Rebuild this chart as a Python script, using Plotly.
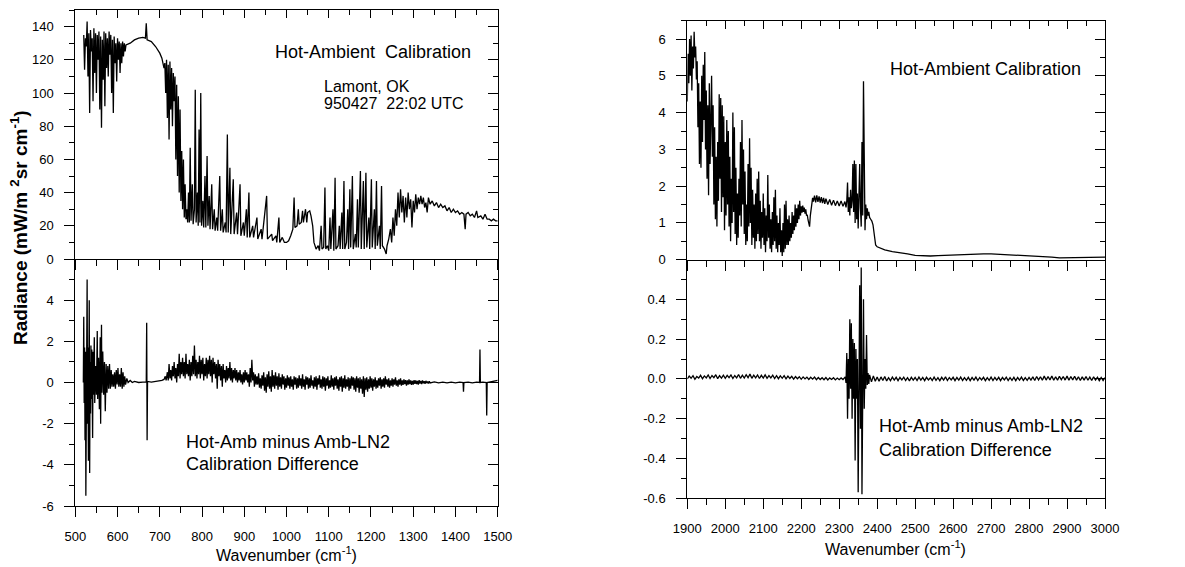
import plotly.graph_objects as go

# ---------------- data ----------------
# Top-left: Hot-Ambient calibration radiance, 500-1500 cm-1
TL_WN = [
    520, 522, 524, 526, 528, 530, 532, 534, 536, 538,
    540, 542, 544, 546, 548, 550, 552, 554, 556, 558,
    560, 562, 564, 566, 568, 570, 572, 574, 576, 578,
    580, 582, 584, 586, 588, 590, 592, 594, 596, 598,
    600, 602, 604, 606, 608, 610, 612, 614, 616, 618,
    620, 630, 640, 650, 660, 666, 668, 670, 680, 690,
    700, 705, 710, 712, 714, 716, 718, 720, 722, 724,
    726, 728, 730, 732, 734, 736, 738, 740, 742, 744,
    746, 748, 750, 752, 754, 756, 758, 760, 762, 764,
    766, 768, 770, 772, 774, 777, 779, 782, 784, 786,
    789, 791, 793, 795, 797, 799, 802, 804, 807, 809,
    812, 814, 817, 819, 823, 825, 829, 831, 835, 837,
    842, 844, 848, 850, 855, 857, 860, 862, 866, 868,
    874, 876, 882, 884, 890, 892, 898, 900, 905, 907,
    911, 913, 920, 922, 930, 932, 940, 942, 953, 955,
    965, 967, 975, 977, 982, 984, 990, 995, 1000, 1005,
    1010, 1015, 1018, 1020, 1025, 1028, 1030, 1035, 1038, 1040,
    1045, 1048, 1050, 1055, 1058, 1062, 1065, 1068, 1070, 1075,
    1078, 1082, 1084, 1088, 1091, 1093, 1097, 1100, 1103, 1105,
    1110, 1112, 1115, 1117, 1122, 1125, 1127, 1131, 1133, 1136,
    1138, 1142, 1145, 1147, 1150, 1152, 1156, 1158, 1163, 1165,
    1168, 1170, 1175, 1177, 1182, 1184, 1188, 1190, 1195, 1197,
    1201, 1203, 1208, 1210, 1213, 1215, 1220, 1222, 1225, 1227,
    1232, 1236, 1238, 1242, 1246, 1249, 1252, 1255, 1258, 1261,
    1264, 1267, 1270, 1273, 1276, 1279, 1282, 1285, 1288, 1291,
    1294, 1297, 1300, 1303, 1306, 1309, 1312, 1315, 1318, 1321,
    1324, 1327, 1330, 1333, 1336, 1340, 1345, 1350, 1355, 1360,
    1365, 1370, 1375, 1380, 1385, 1390, 1395, 1400, 1405, 1410,
    1415, 1420, 1423, 1425, 1430, 1435, 1440, 1445, 1450, 1453,
    1460, 1465, 1470, 1475, 1480, 1485, 1490, 1495, 1500,
]
TL_RAD = [
    135, 114, 133, 128, 143, 110, 136, 88, 138, 125,
    133, 95, 139, 112, 136, 100, 135, 120, 137, 90,
    134, 79, 132, 108, 137, 92, 136, 115, 133, 110,
    137, 123, 135, 100, 132, 88, 134, 118, 130, 107,
    133, 120, 131, 112, 130, 118, 131, 122, 130, 125,
    129, 130, 132, 133, 133.5, 133, 142, 132, 131, 128,
    124, 121, 115, 118, 100, 120, 85, 117, 72, 119,
    90, 115, 80, 112, 95, 110, 60, 105, 50, 98,
    40, 90, 35, 65, 30, 60, 25, 45, 24, 30,
    22, 40, 22, 67, 23, 45, 21, 30, 102, 22,
    40, 20, 78, 22, 100, 20, 35, 19, 50, 19,
    62, 20, 38, 18, 45, 18, 30, 17, 25, 17,
    50, 17, 30, 16, 22, 16, 75, 16, 55, 15,
    48, 15, 28, 15, 45, 14, 22, 14, 30, 13,
    40, 13, 20, 13, 25, 12, 18, 12, 38, 12,
    15, 11, 14, 10, 25, 10, 13, 10, 10, 11,
    14, 18, 37, 19, 20, 30, 21, 22, 29, 22,
    30, 22, 28, 29, 26, 20, 10, 7, 6, 8,
    5, 20, 6, 7, 43, 6, 8, 5, 25, 6,
    30, 5, 49, 6, 8, 20, 6, 28, 6, 47,
    6, 10, 30, 6, 42, 7, 50, 6, 15, 7,
    36, 7, 53, 6, 47, 6, 52, 7, 25, 6,
    48, 7, 30, 6, 47, 8, 20, 6, 44, 8,
    6, 3, 8, 12, 18, 10, 25, 14, 30, 20,
    40, 25, 42, 28, 38, 22, 37, 25, 40, 30,
    36, 19, 35, 28, 39, 30, 37, 33, 38, 33,
    37, 31, 34, 28, 37, 33, 35, 32, 34, 31,
    33, 31, 32, 29, 31, 28, 30, 28, 29, 27,
    28, 27, 18, 27, 28, 26, 27, 25, 29, 25,
    26, 24, 27, 24, 24, 23, 24, 23, 23,
]

# Bottom-left: Hot-Amb minus Amb-LN2 difference, 500-1500 cm-1
BL_WN = [
    519, 520, 521, 522, 523, 524, 525, 526, 527, 528,
    529, 530, 531, 532, 533, 534, 535, 536, 537, 538,
    539, 541, 542, 543, 545, 546, 548, 550, 552, 553,
    555, 557, 559, 560, 562, 563, 565, 567, 569, 571,
    573, 575, 577, 579, 581, 583, 585, 587, 589, 591,
    593, 595, 597, 599, 601, 603, 605, 607, 609, 611,
    613, 615, 617, 619, 622, 625, 630, 635, 640, 650,
    660, 668, 669, 670, 671, 680, 690, 700, 705, 710,
    713, 715, 718, 720, 722, 724, 726, 728, 730, 732,
    734, 736, 738, 740, 742, 744, 746, 748, 750, 752,
    754, 756, 758, 760, 762, 764, 766, 768, 770, 772,
    774, 776, 778, 780, 782, 784, 786, 788, 790, 792,
    794, 796, 798, 800, 802, 804, 806, 808, 810, 812,
    814, 816, 818, 820, 822, 824, 826, 828, 830, 832,
    834, 836, 838, 840, 842, 844, 846, 848, 850, 852,
    854, 856, 858, 860, 862, 864, 866, 868, 870, 872,
    874, 876, 878, 880, 882, 884, 886, 888, 890, 892,
    894, 896, 898, 900, 902, 904, 906, 908, 910, 912,
    914, 916, 918, 920, 922, 924, 926, 928,
    930, 932, 934, 936, 938, 940, 942, 944, 946, 948,
    950, 952, 954, 956, 958, 960, 962, 964, 966, 968,
    970, 972, 974, 976, 978, 980, 982, 984, 986, 988,
    990, 992, 994, 996, 998, 1000, 1002, 1004, 1006, 1008,
    1010, 1012, 1014, 1016, 1018, 1020, 1022, 1024, 1026, 1028,
    1030, 1032, 1034, 1036, 1038, 1040, 1042, 1044, 1046, 1048,
    1050, 1052, 1054, 1056, 1058, 1060, 1062, 1064, 1066, 1068,
    1070, 1072, 1074, 1076, 1078, 1080, 1082, 1084, 1086, 1088,
    1090, 1092, 1094, 1096, 1098, 1100, 1102, 1104, 1106, 1108,
    1110, 1112, 1114, 1116, 1118, 1120, 1122, 1124, 1126, 1128,
    1130, 1132, 1134, 1136, 1138, 1140, 1142, 1144, 1146, 1148,
    1150, 1152, 1154, 1156, 1158, 1160, 1162, 1164, 1166, 1168,
    1170, 1172, 1174, 1176, 1178, 1180, 1182, 1184, 1186, 1188,
    1190, 1192, 1194, 1196, 1198, 1200, 1202, 1204, 1206, 1208,
    1210, 1212, 1214, 1216, 1218, 1220, 1222, 1224, 1226, 1228,
    1230, 1232, 1234, 1236, 1238, 1240, 1242, 1244, 1246, 1248,
    1250, 1252, 1254, 1256, 1258, 1260, 1262, 1264, 1266, 1268,
    1270, 1272, 1274, 1276, 1278, 1280, 1282, 1284, 1286, 1288,
    1290, 1292, 1294, 1296, 1298, 1300, 1302, 1304, 1306, 1308,
    1310, 1312, 1314, 1316, 1318, 1320, 1322, 1324, 1326, 1328,
    1330, 1332, 1334, 1336, 1338, 1340,
    1350, 1360, 1370, 1380, 1390, 1400, 1410, 1418, 1419, 1420,
    1430, 1440, 1450, 1457, 1458, 1459, 1465, 1473, 1474, 1475,
    1485, 1495, 1500,
]
BL_DIFF = [
    0, 3.2, -1, 1.7, -2.8, 1.5, -5.5, 1.8, -3.2, 5.0,
    -2.0, 1.7, -3.8, 1.2, 4.0, -4.4, 1.0, -1.5, 1.8, -0.8,
    1.6, -2.7, 1.5, -0.6, 2.2, -1.0, 0.8, -0.6, 2.5, -0.8,
    1.2, -1.3, 2.2, -2.0, 2.8, -0.5, 1.5, -0.6, 1.0, -1.4,
    0.9, -0.5, 0.8, -0.3, 0.9, -0.3, 0.6, -0.2, 0.4, -0.2,
    0.5, -0.3, 0.6, -0.1, 0.7, -0.2, 0.4, -0.2, 0.7, -0.3,
    0.5, -0.2, 0.3, -0.1, 0.2, 0.0, 0.1, 0.0, 0.05, 0.0,
    0.02, 0.03, 2.9, -2.8, 0.05, 0.02, 0.05, 0.05, 0.1, 0.15,
    0.3, 0.1, 0.5, 0.1, 0.9, 0.2, 0.6, 0.1, 0.8, 0.3,
    1.0, 0.2, 0.7, 0.0, 0.9, 0.3, 1.4, 0.2, 1.0, 0.4,
    1.2, 0.3, 1.0, 0.2, 1.4, 0.4, 0.9, 0.3, 1.1, 0.1,
    1.0, 0.3, 1.3, 0.4, 1.8, 0.3, 1.1, 0.2, 1.0, 0.4,
    1.3, 0.2, 1.1, 0.4, 1.2, 0.1, 0.9, 0.3, 1.2, 0.2,
    1.1, 0.4, 1.3, 0.3, 1.1, 0.0, 1.2, 0.4, 1.0, 0.2,
    0.9, -0.3, 1.1, 0.3, 0.9, 0.1, 0.8, -0.2, 0.9, 0.2,
    0.6, 0.0, 0.8, 0.1, 0.7, 0.2, 1.0, 0.1, 0.7, 0.0,
    0.6, 0.2, 0.7, 0.1, 0.6, 0.0, 0.5, 0.1, 0.6, 0.0,
    0.4, -0.1, 0.5, 0.0, 0.6, 0.1, 0.5, 0.0, 0.4, -0.2,
    0.7, 0.0, 1.1, 0.1, 0.5, -0.2, 0.4, -0.1,
    0.3, -0.1, 0.45, -0.25, 0.2, -0.3, 0.35, -0.15, 0.5, -0.4,
    0.25, -0.5, 0.4, -0.2, 0.55, -0.3, 0.3, -0.45, 0.6, -0.2,
    0.35, -0.3, 0.5, -0.15, 0.3, -0.35, 0.45, -0.2, 0.25, -0.3,
    0.4, -0.1, 0.3, -0.35, 0.2, -0.25, 0.35, -0.15, 0.25, -0.3,
    0.3, -0.2, 0.15, -0.35, 0.3, -0.1, 0.25, -0.3, 0.2, -0.25,
    0.35, -0.15, 0.2, -0.3, 0.4, -0.2, 0.15, -0.35, 0.3, -0.1,
    0.25, -0.3, 0.2, -0.25, 0.35, -0.15, 0.1, -0.3, 0.25, -0.2,
    0.3, -0.35, 0.2, -0.1, 0.35, -0.25, 0.15, -0.3, 0.3, -0.2,
    0.25, -0.4, 0.2, -0.15, 0.3, -0.3, 0.1, -0.25, 0.35, -0.2,
    0.2, -0.35, 0.25, -0.15, 0.3, -0.3, 0.15, -0.4, 0.25, -0.2,
    0.3, -0.45, 0.2, -0.25, 0.35, -0.3, 0.15, -0.2, 0.25, -0.4,
    0.2, -0.3, 0.3, -0.15, 0.25, -0.35, 0.2, -0.45, 0.3, -0.25,
    0.2, -0.5, 0.25, -0.3, 0.15, -0.55, 0.3, -0.7, 0.2, -0.35,
    0.25, -0.45, 0.15, -0.3, 0.3, -0.25, 0.2, -0.4, 0.15, -0.2,
    0.25, -0.3, 0.1, -0.25, 0.2, -0.15, 0.25, -0.3, 0.15, -0.2,
    0.2, -0.25, 0.3, -0.1, 0.15, -0.2, 0.2, -0.25, 0.1, -0.15,
    0.2, -0.2, 0.15, -0.1, 0.25, -0.15, 0.1, -0.2, 0.15, -0.1,
    0.2, -0.15, 0.1, -0.12, 0.15, -0.08, 0.12, -0.15, 0.1, -0.1,
    0.15, -0.08, 0.1, -0.12, 0.08, -0.1, 0.12, -0.06, 0.1, -0.08,
    0.08, -0.1, 0.12, -0.05, 0.08, -0.08, 0.1, -0.04, 0.06, -0.06,
    0.08, -0.03, 0.05, -0.05, 0.06, -0.02,
    0.03, -0.02, 0.02, -0.02, 0.02, -0.02, 0.02, 0.0, -0.45, 0.0,
    0.02, -0.02, 0.02, 0.0, 1.6, 0.0, 0.02, 0.0, -1.6, 0.0,
    0.03, 0.05, 0.1,
]

# Top-right: Hot-Ambient calibration radiance, 1900-3000 cm-1
TR_WN = [
    1900, 1902, 1904, 1906, 1908, 1910, 1912, 1914, 1916, 1918,
    1920, 1922, 1924, 1926, 1928, 1930, 1932, 1934, 1936, 1938,
    1940, 1942, 1944, 1946, 1948, 1950, 1952, 1954, 1956, 1958,
    1960, 1962, 1964, 1966, 1968, 1970, 1972, 1974, 1976, 1978,
    1980, 1982, 1984, 1986, 1988, 1990, 1992, 1994, 1996, 1998,
    2000, 2002, 2004, 2006, 2008, 2010, 2012, 2014, 2016, 2018,
    2020, 2022, 2024, 2026, 2028, 2030, 2032, 2034, 2036, 2038,
    2040, 2042, 2044, 2046, 2048, 2050, 2052, 2054, 2056, 2058,
    2060, 2062, 2064, 2066, 2068, 2070, 2072, 2074, 2076, 2078,
    2080, 2082, 2084, 2086, 2088, 2090, 2092, 2094, 2096, 2098,
    2100, 2102, 2104, 2106, 2108, 2110, 2112, 2114, 2116, 2118,
    2120, 2122, 2124, 2126, 2128, 2130, 2132, 2134, 2136, 2138,
    2140, 2142, 2144, 2146, 2148, 2150, 2152, 2154, 2156, 2158,
    2160, 2162, 2164, 2166, 2168, 2170, 2172, 2174, 2176, 2178,
    2180, 2182, 2184, 2186, 2188, 2190, 2192, 2194, 2196, 2198,
    2200, 2202, 2204, 2206, 2208, 2210, 2212, 2214, 2216, 2218,
    2220, 2222, 2224, 2226, 2228, 2230, 2232, 2235, 2238, 2241,
    2244, 2247, 2250, 2253, 2256, 2259, 2262, 2265, 2270, 2275,
    2280, 2285, 2290, 2295, 2300, 2305, 2310, 2315, 2318, 2320,
    2322, 2324, 2326, 2328, 2330, 2332, 2334, 2336, 2338, 2340,
    2342, 2344, 2346, 2348, 2350, 2352, 2354, 2356, 2358, 2360,
    2362, 2364, 2366, 2368, 2370, 2372, 2374, 2376, 2378, 2380,
    2383, 2386, 2389, 2392, 2394, 2396, 2400, 2410, 2420, 2440,
    2460, 2480, 2500, 2520, 2540, 2560, 2580, 2600, 2620, 2650,
    2680, 2700, 2720, 2750, 2780, 2800, 2830, 2860, 2880, 2900,
    2920, 2950, 2980, 3000,
]
TR_RAD = [
    4.3, 5.6, 4.8, 6.0, 5.0, 6.1, 4.6, 5.8, 5.2, 6.2,
    5.5, 5.8, 4.9, 5.4, 3.6, 4.8, 2.6, 4.3, 2.5, 5.0,
    3.2, 5.3, 3.8, 5.65, 3.0, 4.6, 2.2, 4.2, 1.75, 4.8,
    2.6, 4.6, 5.0, 2.8, 4.2, 1.5, 3.6, 1.1, 2.8, 0.9,
    3.2, 1.6, 4.5, 2.2, 4.4, 1.3, 4.2, 1.7, 3.9, 0.8,
    3.2, 1.2, 3.8, 1.5, 3.5, 0.9, 2.8, 0.5, 2.2, 1.0,
    4.0, 1.3, 3.6, 0.7, 2.5, 0.4, 1.8, 0.6, 2.2, 1.2,
    3.2, 0.9, 3.8, 1.5, 3.0, 0.7, 2.4, 0.4, 1.5, 0.5,
    2.6, 0.9, 3.3, 1.0, 2.5, 0.4, 1.9, 0.6, 1.5, 0.3,
    1.8, 0.5, 2.2, 0.7, 2.4, 0.5, 1.6, 0.3, 1.3, 0.6,
    1.8, 0.4, 1.4, 0.2, 1.2, 0.5, 2.3, 0.6, 1.5, 0.3,
    1.1, 0.2, 1.3, 0.4, 1.7, 0.5, 1.9, 0.3, 1.2, 0.2,
    1.0, 0.4, 1.4, 0.2, 0.8, 0.1, 1.0, 0.2, 1.5, 0.3,
    1.6, 0.4, 1.1, 0.4, 1.2, 0.5, 1.0, 0.6, 1.3, 0.7,
    1.2, 0.8, 1.5, 0.9, 1.4, 1.0, 1.5, 1.1, 1.6, 1.2,
    1.45, 1.28, 1.47, 1.3, 1.42, 1.25, 1.37, 1.2, 1.22, 1.08,
    0.95, 0.9, 1.2, 1.4, 1.52, 1.68, 1.58, 1.74, 1.56, 1.75,
    1.57, 1.72, 1.55, 1.7, 1.54, 1.68, 1.52, 1.66, 1.5, 1.64,
    1.48, 1.62, 1.47, 1.6, 1.46, 1.6, 1.45, 1.58, 1.42, 1.6,
    2.1, 1.3, 1.7, 1.2, 1.9, 1.4, 1.6, 2.6, 1.3, 2.7,
    1.0, 2.6, 1.1, 1.8, 0.85, 1.5, 2.6, 1.4, 0.9, 3.2,
    1.2, 4.85, 1.3, 0.8, 1.5, 1.1, 1.4, 1.2, 1.3, 1.15,
    1.1, 1.05, 0.95, 0.75, 0.5, 0.4, 0.35, 0.3, 0.27, 0.22,
    0.2, 0.16, 0.12, 0.1, 0.1, 0.11, 0.12, 0.13, 0.13, 0.14,
    0.16, 0.16, 0.15, 0.14, 0.12, 0.11, 0.09, 0.07, 0.05, 0.05,
    0.06, 0.06, 0.07, 0.07,
]

# Bottom-right: Hot-Amb minus Amb-LN2 difference, 1900-3000 cm-1
BR_WN = [
    1900, 1905, 1910, 1915, 1920, 1925, 1930, 1935, 1940, 1945,
    1950, 1955, 1960, 1965, 1970, 1975, 1980, 1985, 1990, 1995,
    2000, 2005, 2010, 2015, 2020, 2025, 2030, 2035, 2040, 2045,
    2050, 2055, 2060, 2065, 2070, 2075, 2080, 2085, 2090, 2095,
    2100, 2105, 2110, 2115, 2120, 2125, 2130, 2135, 2140, 2145,
    2150, 2155, 2160, 2165, 2170, 2175, 2180, 2185, 2190, 2195,
    2200, 2205, 2210, 2215, 2220, 2225, 2230, 2235, 2240, 2245,
    2250, 2255, 2260, 2265, 2270, 2275, 2280, 2285, 2290, 2295,
    2300, 2305, 2310,
    2316, 2318, 2320, 2322, 2324, 2326, 2328, 2330, 2332, 2334,
    2336, 2338, 2340, 2342, 2344, 2346, 2348, 2350, 2352, 2354,
    2356, 2358, 2360, 2362, 2364, 2366, 2368, 2370, 2372, 2374,
    2376, 2378, 2380, 2385, 2390, 2395, 2400,
    2405, 2410, 2415, 2420, 2425, 2430, 2435, 2440, 2445, 2450,
    2455, 2460, 2465, 2470, 2475, 2480, 2485, 2490, 2495, 2500,
    2505, 2510, 2515, 2520, 2525, 2530, 2535, 2540, 2545, 2550,
    2555, 2560, 2565, 2570, 2575, 2580, 2585, 2590, 2595, 2600,
    2605, 2610, 2615, 2620, 2625, 2630, 2635, 2640, 2645, 2650,
    2655, 2660, 2665, 2670, 2675, 2680, 2685, 2690, 2695, 2700,
    2705, 2710, 2715, 2720, 2725, 2730, 2735, 2740, 2745, 2750,
    2755, 2760, 2765, 2770, 2775, 2780, 2785, 2790, 2795, 2800,
    2805, 2810, 2815, 2820, 2825, 2830, 2835, 2840, 2845, 2850,
    2855, 2860, 2865, 2870, 2875, 2880, 2885, 2890, 2895, 2900,
    2905, 2910, 2915, 2920, 2925, 2930, 2935, 2940, 2945, 2950,
    2955, 2960, 2965, 2970, 2975, 2980, 2985, 2990, 2995, 3000,
]
BR_DIFF = [
    0.0, 0.014, 0.003, 0.016, -0.002, 0.012, 0.004, 0.018, 0.001, 0.015,
    0.005, 0.02, 0.002, 0.017, 0.006, 0.021, 0.001, 0.016, 0.004, 0.019,
    0.003, 0.018, 0.006, 0.02, 0.002, 0.017, 0.005, 0.022, 0.003, 0.019,
    0.004, 0.021, 0.006, 0.024, 0.003, 0.019, 0.005, 0.02, 0.002, 0.018,
    0.004, 0.02, 0.003, 0.017, 0.005, 0.019, 0.002, 0.016, 0.001, 0.015,
    0.003, 0.016, 0.0, 0.014, 0.002, 0.013, -0.001, 0.012, 0.001, 0.011,
    -0.002, 0.01, 0.0, 0.009, -0.003, 0.008, -0.001, 0.009, -0.004, 0.007,
    -0.003, 0.006, -0.004, 0.007, -0.005, 0.005, -0.003, 0.006, -0.005, 0.004,
    -0.004, 0.005, -0.003,
    0.01, -0.02, 0.13, -0.2, 0.1, -0.1, 0.3, -0.05, 0.28, -0.2,
    0.2, -0.1, 0.18, -0.41, 0.15, -0.1, 0.1, -0.57, 0.2, 0.47,
    -0.25, 0.56, -0.58, 0.2, 0.4, -0.15, 0.1, -0.05, 0.22, -0.03,
    0.03, -0.025, 0.02, -0.015, 0.015, -0.012, 0.01,
    -0.012, 0.01, -0.008, 0.012, -0.01, 0.006, -0.009, 0.009, -0.006, 0.008,
    -0.009, 0.007, -0.005, 0.009, -0.008, 0.006, -0.01, 0.008, -0.006, 0.007,
    -0.008, 0.009, -0.006, 0.007, -0.009, 0.008, -0.005, 0.006, -0.008, 0.009,
    -0.007, 0.006, -0.009, 0.008, -0.006, 0.01, -0.008, 0.007, -0.005, 0.008,
    -0.009, 0.007, -0.006, 0.009, -0.008, 0.006, -0.007, 0.008, -0.009, 0.007,
    -0.006, 0.009, -0.008, 0.007, -0.005, 0.008, -0.009, 0.006, -0.007, 0.009,
    -0.008, 0.007, -0.006, 0.008, -0.009, 0.007, -0.005, 0.009, -0.008, 0.006,
    -0.007, 0.008, -0.009, 0.007, -0.006, 0.009, -0.008, 0.006, -0.007, 0.008,
    -0.006, 0.01, -0.008, 0.012, -0.005, 0.011, -0.007, 0.014, -0.006, 0.012,
    -0.005, 0.015, -0.007, 0.011, -0.006, 0.013, -0.004, 0.012, -0.006, 0.014,
    -0.007, 0.012, -0.005, 0.013, -0.006, 0.011, -0.008, 0.01, -0.006, 0.012,
    -0.007, 0.009, -0.008, 0.01, -0.006, 0.008, -0.009, 0.007, -0.008, 0.006,
]

# tick labels
LEFT_X_TICKS = [500, 600, 700, 800, 900, 1000, 1100, 1200, 1300, 1400, 1500]
RIGHT_X_TICKS = [1900, 2000, 2100, 2200, 2300, 2400, 2500, 2600, 2700, 2800, 2900, 3000]
TL_Y_TICKS = [0, 20, 40, 60, 80, 100, 120, 140]
BL_Y_TICKS = [-6, -4, -2, 0, 2, 4]
BL_Y_TEXT = ["-6", "-4", "-2", "0", "2", "4"]
TR_Y_TICKS = [0, 1, 2, 3, 4, 5, 6]
BR_Y_TICKS = [-0.6, -0.4, -0.2, 0.0, 0.2, 0.4]
BR_Y_TEXT = ["-0.6", "-0.4", "-0.2", "0.0", "0.2", "0.4"]

# ---------------- figure ----------------
FONT = "Liberation Sans, Arial, Helvetica, sans-serif"
OFF = 8                       # page body margin
W, H = 1185 - OFF, 567 - OFF
LINE = dict(color="black", width=1.3)


def px_x(p):
    return (p - OFF) / W


def px_y(p):
    return 1 - (p - OFF) / H


L_X = [px_x(75.3), px_x(497.7)]
R_X = [px_x(687.3), px_x(1105.0)]
TL_Y = [px_y(259.0), px_y(10.0)]
BL_Y = [px_y(506.0), px_y(259.0)]
TR_Y = [px_y(259.7), px_y(20.7)]
BR_Y = [px_y(498.3), px_y(259.5)]

fig = go.Figure()
fig.add_trace(go.Scatter(x=BL_WN, y=BL_DIFF, mode="lines", line=LINE, xaxis="x", yaxis="y", showlegend=False))
fig.add_trace(go.Scatter(x=TL_WN, y=TL_RAD, mode="lines", line=LINE, xaxis="x2", yaxis="y2", showlegend=False))
fig.add_trace(go.Scatter(x=BR_WN, y=BR_DIFF, mode="lines", line=LINE, xaxis="x3", yaxis="y3", showlegend=False))
fig.add_trace(go.Scatter(x=TR_WN, y=TR_RAD, mode="lines", line=LINE, xaxis="x4", yaxis="y4", showlegend=False))
# empty traces so that the frame-edge (mirror) axes get drawn
for xa, ya in [("x", "y5"), ("x5", "y2"), ("x2", "y6"), ("x3", "y7"), ("x6", "y4"), ("x4", "y8")]:
    fig.add_trace(go.Scatter(x=[], y=[], mode="lines", xaxis=xa, yaxis=ya, showlegend=False, hoverinfo="skip"))

TICKFONT = dict(family=FONT, size=13, color="black")


def base_axis(**kw):
    d = dict(showgrid=False, zeroline=False, showline=True, linecolor="black", linewidth=1,
             ticklen=10, tickwidth=1, tickcolor="black", tickfont=TICKFONT, automargin=False,
             fixedrange=True)
    d.update(kw)
    return d


def minor(dt, t0, ticks, ln=6):
    return dict(dtick=dt, tick0=t0, ticks=ticks, ticklen=ln, tickwidth=1, tickcolor="black", showgrid=False)


fig.update_layout(
    width=W, height=H, margin=dict(l=0, r=0, t=0, b=0),
    paper_bgcolor="white", plot_bgcolor="white", showlegend=False,
    # bottom-left
    xaxis=base_axis(domain=L_X, anchor="y", range=[500, 1500], tickmode="array", tickvals=LEFT_X_TICKS,
                    ticks="outside", minor=minor(50, 500, "outside"), ticklabelstandoff=8),
    yaxis=base_axis(domain=BL_Y, anchor="x", range=[-6, 6], tickmode="array", tickvals=BL_Y_TICKS,
                    ticktext=BL_Y_TEXT, ticks="outside", minor=minor(1, 0, "outside", 5), ticklabelstandoff=8),
    yaxis5=base_axis(overlaying="y", anchor="x", side="right", range=[-6, 6], tickmode="array",
                     tickvals=BL_Y_TICKS, ticks="inside", showticklabels=False, minor=minor(1, 0, "inside", 5)),
    # top-left
    xaxis2=base_axis(domain=L_X, anchor="y2", range=[500, 1500], tickmode="array", tickvals=LEFT_X_TICKS,
                     ticks="outside", showticklabels=False, minor=minor(50, 500, "outside")),
    xaxis5=base_axis(overlaying="x2", anchor="y2", side="top", range=[500, 1500], tickmode="array",
                     tickvals=LEFT_X_TICKS, ticks="inside", ticklen=8, showticklabels=False,
                     minor=minor(50, 500, "inside", 5)),
    yaxis2=base_axis(domain=TL_Y, anchor="x2", range=[0, 150], tickmode="array", tickvals=TL_Y_TICKS,
                     ticks="outside", minor=minor(10, 0, "outside", 5), ticklabelstandoff=8),
    yaxis6=base_axis(overlaying="y2", anchor="x2", side="right", range=[0, 150], tickmode="array",
                     tickvals=TL_Y_TICKS, ticks="inside", showticklabels=False, minor=minor(10, 0, "inside", 5)),
    # bottom-right
    xaxis3=base_axis(domain=R_X, anchor="y3", range=[1900, 3000], tickmode="array", tickvals=RIGHT_X_TICKS,
                     ticks="outside", minor=minor(50, 1900, "outside"), ticklabelstandoff=8),
    yaxis3=base_axis(domain=BR_Y, anchor="x3", range=[-0.6, 0.6], tickmode="array", tickvals=BR_Y_TICKS,
                     ticktext=BR_Y_TEXT, ticks="outside", minor=minor(0.1, 0, "outside", 5), ticklabelstandoff=8),
    yaxis7=base_axis(overlaying="y3", anchor="x3", side="right", range=[-0.6, 0.6], tickmode="array",
                     tickvals=BR_Y_TICKS, ticks="inside", showticklabels=False, minor=minor(0.1, 0, "inside", 5)),
    # top-right
    xaxis4=base_axis(domain=R_X, anchor="y4", range=[1900, 3000], tickmode="array", tickvals=RIGHT_X_TICKS,
                     ticks="outside", showticklabels=False, minor=minor(50, 1900, "outside")),
    xaxis6=base_axis(overlaying="x4", anchor="y4", side="top", range=[1900, 3000], tickmode="array",
                     tickvals=RIGHT_X_TICKS, ticks="inside", ticklen=8, showticklabels=False,
                     minor=minor(50, 1900, "inside", 5)),
    yaxis4=base_axis(domain=TR_Y, anchor="x4", range=[0, 6.5], tickmode="array", tickvals=TR_Y_TICKS,
                     ticks="outside", minor=minor(0.5, 0, "outside", 5), ticklabelstandoff=8),
    yaxis8=base_axis(overlaying="y4", anchor="x4", side="right", range=[0, 6.5], tickmode="array",
                     tickvals=TR_Y_TICKS, ticks="inside", showticklabels=False, minor=minor(0.5, 0, "inside", 5)),
)

TXT = dict(family=FONT, size=18, color="black")
SMALL = dict(family=FONT, size=16, color="black")
ann = [
    dict(text="Hot-Ambient  Calibration", xref="x2", yref="y2", x=1205, y=124.7, xanchor="center", font=TXT),
    dict(text="Lamont, OK", xref="x2", yref="y2", x=1084, y=104, xanchor="left", font=SMALL),
    dict(text="950427  22:02 UTC", xref="x2", yref="y2", x=1084, y=93.7, xanchor="left", font=SMALL),
    dict(text="Hot-Amb minus Amb-LN2", xref="x", yref="y", x=757, y=-2.87, xanchor="left", font=TXT),
    dict(text="Calibration Difference", xref="x", yref="y", x=757, y=-3.94, xanchor="left", font=TXT),
    dict(text="Hot-Ambient Calibration", xref="x4", yref="y4", x=2684, y=5.2, xanchor="center", font=TXT),
    dict(text="Hot-Amb minus Amb-LN2", xref="x3", yref="y3", x=2400, y=-0.239, xanchor="left", font=TXT),
    dict(text="Calibration Difference", xref="x3", yref="y3", x=2400, y=-0.357, xanchor="left", font=TXT),
    dict(text="Wavenumber (cm<sup>-1</sup>)", xref="paper", yref="paper", x=px_x(286.5), y=px_y(554),
         xanchor="center", font=dict(family=FONT, size=16, color="black")),
    dict(text="Wavenumber (cm<sup>-1</sup>)", xref="paper", yref="paper", x=px_x(895.5), y=px_y(548),
         xanchor="center", font=dict(family=FONT, size=16, color="black")),
    dict(text="<b>Radiance (mW/m <sup>2</sup>sr cm<sup>-1</sup>)</b>", xref="paper", yref="paper",
         x=px_x(19), y=px_y(228), textangle=-90, xanchor="center",
         font=dict(family=FONT, size=19, color="black")),
]
for a in ann:
    a.setdefault("showarrow", False)
    a.setdefault("yanchor", "middle")
fig.update_layout(annotations=ann)

fig.write_html("out.html")
